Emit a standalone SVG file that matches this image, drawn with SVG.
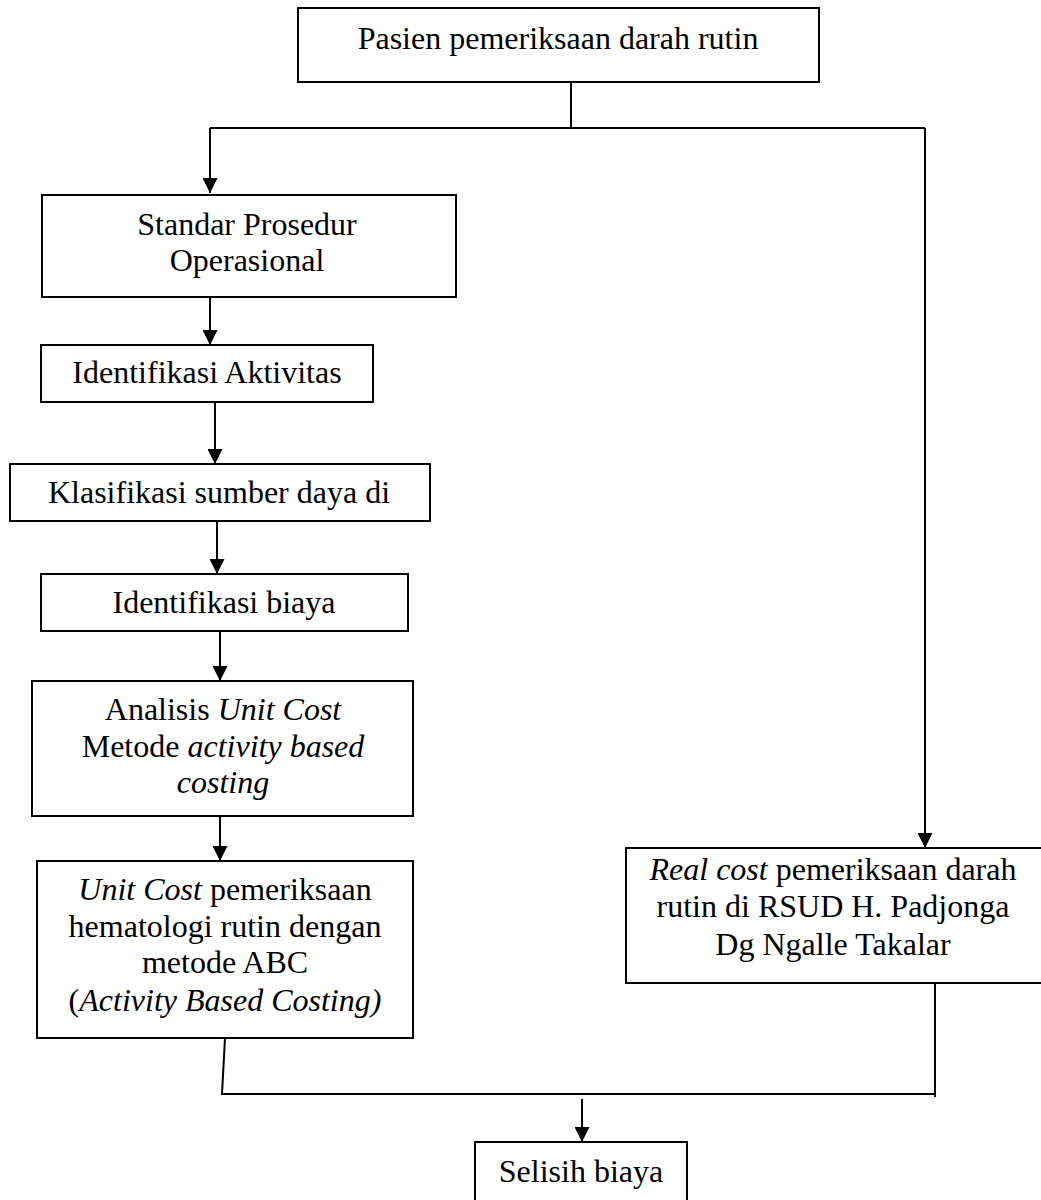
<svg xmlns="http://www.w3.org/2000/svg" width="1041" height="1200" viewBox="0 0 1041 1200">
<defs>
<style>
.box{fill:#fff;stroke:#000;stroke-width:2}
.t{font-family:"Liberation Serif","Times New Roman",serif;font-size:32px;fill:#000;text-anchor:middle}
.i{font-style:italic}
.c{fill:none;stroke:#000;stroke-width:2}
</style>
<marker id="ah" viewBox="0 0 10 10" refX="10" refY="5" markerWidth="7.5" markerHeight="7.5" markerUnits="strokeWidth" orient="auto">
<path d="M0,0 L10,5 L0,10 z" fill="#000"/>
</marker>
</defs>
<rect width="1041" height="1200" fill="#fff"/>
<g id="connectors">
<line class="c" x1="571" y1="82" x2="571" y2="128"/>
<polyline class="c" points="210,128 925,128"/>
<line class="c" x1="210" y1="128" x2="210" y2="193" marker-end="url(#ah)"/>
<line class="c" x1="925" y1="128" x2="925" y2="848" marker-end="url(#ah)"/>
<line class="c" x1="210" y1="297" x2="210" y2="345" marker-end="url(#ah)"/>
<line class="c" x1="215" y1="402" x2="215" y2="464" marker-end="url(#ah)"/>
<line class="c" x1="217" y1="521" x2="217" y2="574" marker-end="url(#ah)"/>
<line class="c" x1="220" y1="631" x2="220" y2="681" marker-end="url(#ah)"/>
<line class="c" x1="220" y1="816" x2="220" y2="861" marker-end="url(#ah)"/>
<polyline class="c" points="225,1038 222,1094 935,1094"/>
<line class="c" x1="935" y1="983" x2="935" y2="1097"/>
<line class="c" x1="582" y1="1099" x2="582" y2="1142" marker-end="url(#ah)"/>
</g>
<g id="n-pasien">
<rect class="box" x="298" y="8" width="521" height="74"/>
<text class="t" x="558" y="49">Pasien pemeriksaan darah rutin</text>
</g>
<g id="n-sop">
<rect class="box" x="42" y="195" width="414" height="102"/>
<text class="t" x="247" y="235">Standar Prosedur</text>
<text class="t" x="247" y="271">Operasional</text>
</g>
<g id="n-aktivitas">
<rect class="box" x="41" y="345" width="332" height="57"/>
<text class="t" x="207" y="383">Identifikasi Aktivitas</text>
</g>
<g id="n-klasifikasi">
<rect class="box" x="10" y="464" width="420" height="57"/>
<text class="t" x="219" y="503">Klasifikasi sumber daya di</text>
</g>
<g id="n-biaya">
<rect class="box" x="41" y="574" width="367" height="57"/>
<text class="t" x="224" y="613">Identifikasi biaya</text>
</g>
<g id="n-analisis">
<rect class="box" x="32" y="681" width="381" height="135"/>
<text class="t" x="223" y="720">Analisis <tspan class="i">Unit Cost</tspan></text>
<text class="t" x="223" y="757">Metode <tspan class="i">activity based</tspan></text>
<text class="t i" x="223" y="793">costing</text>
</g>
<g id="n-unitcost">
<rect class="box" x="37" y="861" width="376" height="177"/>
<text class="t" x="225" y="900"><tspan class="i">Unit Cost</tspan> pemeriksaan</text>
<text class="t" x="225" y="937">hematologi rutin dengan</text>
<text class="t" x="225" y="973">metode ABC</text>
<text class="t" x="225" y="1011">(<tspan class="i">Activity Based Costing)</tspan></text>
</g>
<g id="n-realcost">
<rect class="box" x="626" y="848" width="420" height="135"/>
<text class="t" x="833" y="880"><tspan class="i">Real cost</tspan> pemeriksaan darah</text>
<text class="t" x="833" y="917">rutin di RSUD H. Padjonga</text>
<text class="t" x="833" y="955">Dg Ngalle Takalar</text>
</g>
<g id="n-selisih">
<rect class="box" x="475" y="1142" width="212" height="70"/>
<text class="t" x="581" y="1182">Selisih biaya</text>
</g>
</svg>
